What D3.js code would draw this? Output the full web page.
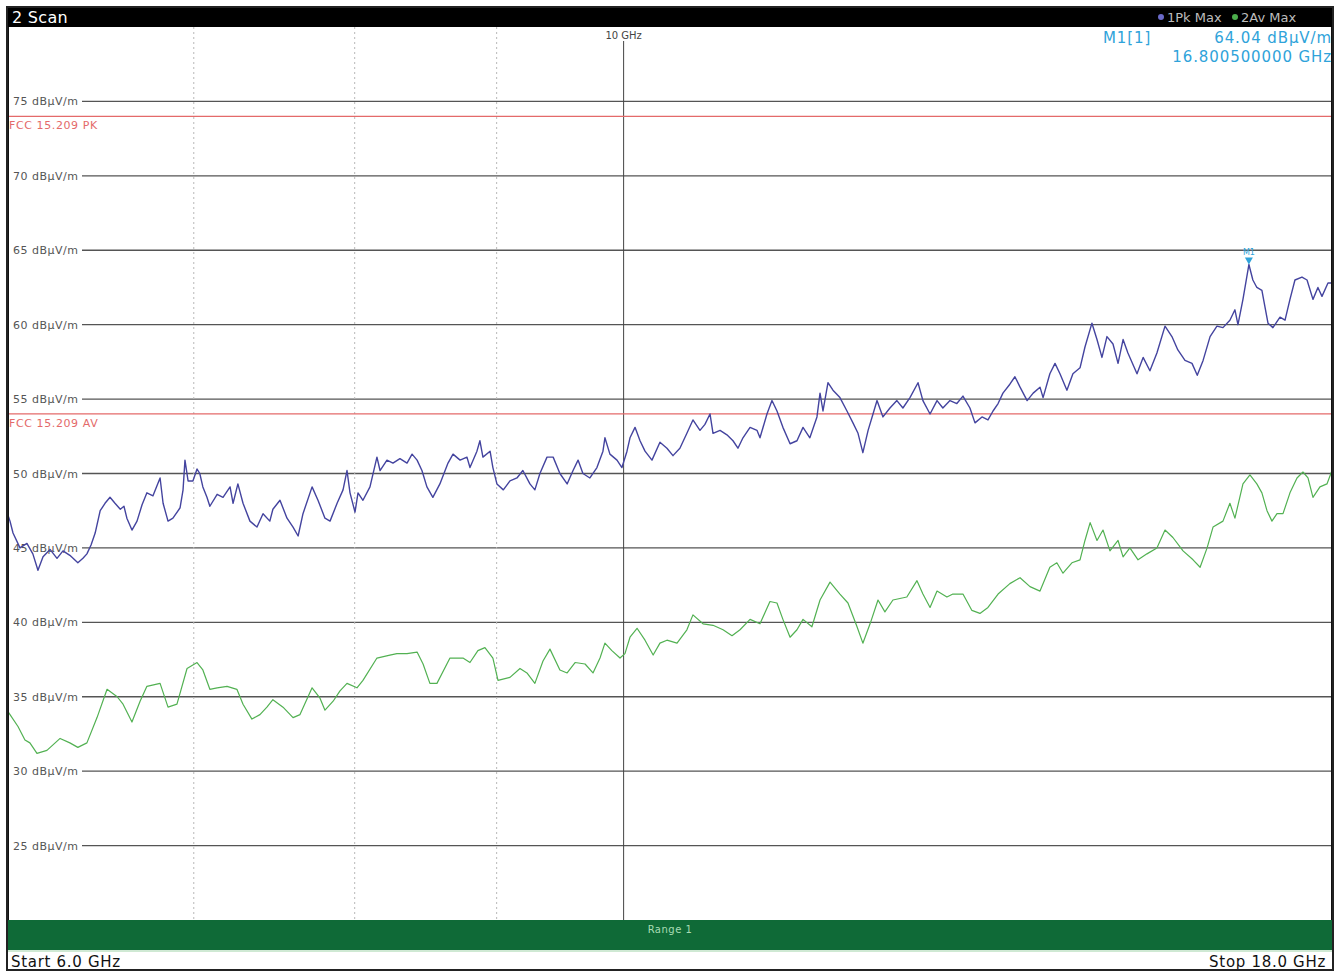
<!DOCTYPE html>
<html>
<head>
<meta charset="utf-8">
<script src="https://cdn.jsdelivr.net/npm/d3@7/dist/d3.min.js"></script>
<style>
  html, body { margin: 0; padding: 0; background: #ffffff; }
  svg { display: block; }
  text { font-family: "DejaVu Sans", Verdana, sans-serif; }
</style>
</head>
<body>
<svg id="chart" width="1336" height="973"></svg>
<script>
// Sweep range and level axis
const freqRange = [6.0, 18.0];          // GHz
const levelRange = [20, 80];            // dBµV/m
const levelTicks = [75, 70, 65, 60, 55, 50, 45, 40, 35, 30, 25];
const freqGridMinor = [7, 8, 9];        // dotted grid lines
const freqGridMajor = [10];             // solid grid line with label

// Limit lines
const limitNames = ["FCC 15.209 PK", "FCC 15.209 AV"];
const limitLevels = [74, 54];

// Marker
const markerName = "M1";
const markerFreq = 16.8005;
const markerLevel = 64.04;

// Trace 1: peak max hold
const pkFreq = [6.000, 6.010, 6.025, 6.060, 6.095, 6.125, 6.151, 6.177, 6.213, 6.249, 6.280, 6.316, 6.358, 6.385, 6.406, 6.428, 6.450, 6.477, 6.503, 6.530, 6.557, 6.586, 6.606, 6.622, 6.650, 6.678, 6.706, 6.733, 6.767, 6.790, 6.807, 6.824, 6.852, 6.880, 6.921, 6.938, 6.949, 6.967, 6.995, 7.019, 7.035, 7.053, 7.077, 7.094, 7.137, 7.172, 7.214, 7.232, 7.261, 7.292, 7.334, 7.377, 7.414, 7.456, 7.475, 7.519, 7.563, 7.601, 7.633, 7.664, 7.722, 7.760, 7.805, 7.838, 7.884, 7.923, 7.949, 7.969, 8.002, 8.022, 8.055, 8.102, 8.149, 8.170, 8.217, 8.258, 8.306, 8.355, 8.390, 8.425, 8.459, 8.494, 8.536, 8.586, 8.644, 8.680, 8.731, 8.781, 8.803, 8.854, 8.876, 8.898, 8.951, 8.972, 9.002, 9.050, 9.100, 9.153, 9.198, 9.252, 9.290, 9.329, 9.384, 9.432, 9.485, 9.542, 9.589, 9.629, 9.668, 9.724, 9.781, 9.830, 9.846, 9.887, 9.945, 9.986, 10.028, 10.053, 10.095, 10.137, 10.179, 10.238, 10.306, 10.366, 10.418, 10.478, 10.539, 10.592, 10.654, 10.698, 10.743, 10.770, 10.833, 10.895, 10.950, 10.995, 11.041, 11.106, 11.170, 11.198, 11.263, 11.310, 11.357, 11.413, 11.481, 11.547, 11.605, 11.671, 11.740, 11.770, 11.799, 11.848, 11.897, 11.966, 12.036, 12.096, 12.147, 12.196, 12.249, 12.299, 12.340, 12.401, 12.473, 12.545, 12.608, 12.682, 12.767, 12.819, 12.895, 12.970, 13.033, 13.110, 13.185, 13.252, 13.329, 13.385, 13.463, 13.530, 13.587, 13.644, 13.699, 13.778, 13.836, 13.895, 13.977, 14.047, 14.127, 14.163, 14.243, 14.304, 14.363, 14.446, 14.518, 14.604, 14.664, 14.749, 14.811, 14.872, 14.934, 15.009, 15.072, 15.135, 15.196, 15.311, 15.389, 15.476, 15.566, 15.671, 15.761, 15.839, 15.933, 16.026, 16.096, 16.174, 16.268, 16.361, 16.443, 16.538, 16.607, 16.649, 16.718, 16.8005, 16.856, 16.912, 16.983, 17.026, 17.069, 17.139, 17.240, 17.312, 17.383, 17.455, 17.557, 17.631, 17.718, 17.791, 17.851, 17.940, 18.000];
const pkLevel = [47.2, 46.8, 46.0, 45.0, 45.3, 44.6, 43.5, 44.4, 44.9, 44.3, 44.8, 44.5, 44.0, 44.3, 44.6, 45.2, 46.0, 47.5, 48.0, 48.4, 48.0, 47.6, 47.8, 47.0, 46.2, 46.8, 47.9, 48.7, 48.5, 49.2, 49.7, 48.0, 46.8, 47.0, 47.7, 48.9, 50.9, 49.5, 49.5, 50.3, 50.0, 49.1, 48.4, 47.8, 48.6, 48.4, 49.1, 48.0, 49.3, 48.0, 46.8, 46.4, 47.3, 46.8, 47.6, 48.2, 47.0, 46.4, 45.8, 47.3, 49.1, 48.2, 47.0, 46.8, 48.0, 48.9, 50.2, 48.7, 47.4, 48.7, 48.2, 49.1, 51.1, 50.2, 50.9, 50.7, 51.0, 50.7, 51.3, 50.9, 50.2, 49.1, 48.4, 49.3, 50.7, 51.3, 50.9, 51.1, 50.4, 51.5, 52.2, 51.1, 51.5, 50.4, 49.3, 48.9, 49.5, 49.7, 50.2, 49.3, 48.9, 50.0, 51.1, 51.1, 50.0, 49.3, 50.2, 50.9, 50.0, 49.7, 50.4, 51.5, 52.4, 51.3, 50.9, 50.4, 51.5, 52.4, 53.1, 52.2, 51.5, 50.9, 52.1, 51.7, 51.2, 51.7, 52.7, 53.6, 52.9, 53.3, 54.0, 52.7, 52.9, 52.6, 52.2, 51.7, 52.4, 53.1, 52.9, 52.4, 54.0, 54.9, 54.2, 53.1, 52.0, 52.2, 53.1, 52.4, 53.8, 55.4, 54.2, 56.1, 55.6, 55.1, 54.2, 53.4, 52.7, 51.4, 52.9, 54.0, 54.9, 53.8, 54.4, 54.9, 54.4, 55.1, 56.1, 54.9, 54.0, 54.9, 54.4, 54.9, 54.7, 55.2, 54.4, 53.4, 53.8, 53.6, 54.2, 54.7, 55.4, 56.0, 56.5, 55.8, 54.9, 55.4, 55.8, 55.1, 56.7, 57.4, 56.7, 55.6, 56.7, 57.1, 58.5, 60.1, 59.0, 57.8, 59.2, 58.7, 57.4, 59.0, 58.1, 56.7, 57.8, 56.9, 58.1, 59.9, 59.2, 58.3, 57.6, 57.4, 56.6, 57.6, 59.2, 59.9, 59.8, 60.3, 61.0, 60.0, 61.7, 64.04, 63.0, 62.5, 62.3, 61.2, 60.1, 59.8, 60.5, 60.3, 61.7, 63.0, 63.2, 63.0, 61.7, 62.5, 61.9, 62.8, 62.8];

// Trace 2: average max hold
const avFreq = [6.000, 6.010, 6.050, 6.085, 6.110, 6.146, 6.197, 6.265, 6.316, 6.358, 6.406, 6.460, 6.514, 6.569, 6.601, 6.650, 6.695, 6.733, 6.807, 6.852, 6.903, 6.961, 7.019, 7.053, 7.094, 7.137, 7.196, 7.255, 7.292, 7.346, 7.395, 7.438, 7.475, 7.538, 7.601, 7.645, 7.722, 7.773, 7.805, 7.858, 7.903, 7.949, 8.015, 8.055, 8.149, 8.237, 8.285, 8.355, 8.425, 8.467, 8.515, 8.565, 8.658, 8.752, 8.803, 8.861, 8.913, 8.972, 9.010, 9.100, 9.176, 9.229, 9.290, 9.353, 9.407, 9.485, 9.542, 9.605, 9.685, 9.749, 9.806, 9.846, 9.903, 9.970, 10.011, 10.053, 10.112, 10.179, 10.248, 10.306, 10.366, 10.453, 10.539, 10.592, 10.681, 10.770, 10.860, 10.941, 11.014, 11.106, 11.198, 11.291, 11.357, 11.413, 11.481, 11.547, 11.605, 11.691, 11.770, 11.868, 11.966, 12.046, 12.137, 12.196, 12.269, 12.350, 12.421, 12.504, 12.649, 12.756, 12.819, 12.895, 12.970, 13.077, 13.142, 13.252, 13.351, 13.440, 13.530, 13.644, 13.778, 13.895, 14.010, 14.127, 14.243, 14.326, 14.399, 14.506, 14.604, 14.664, 14.727, 14.811, 14.885, 14.971, 15.072, 15.135, 15.221, 15.324, 15.438, 15.566, 15.671, 15.774, 15.907, 16.040, 16.134, 16.228, 16.308, 16.443, 16.538, 16.607, 16.718, 16.815, 16.912, 16.983, 17.055, 17.125, 17.197, 17.283, 17.383, 17.485, 17.571, 17.645, 17.718, 17.821, 17.925, 18.000];
const avLevel = [34.0, 33.8, 33.0, 32.1, 31.9, 31.2, 31.4, 32.2, 31.9, 31.6, 31.9, 33.6, 35.5, 35.0, 34.5, 33.3, 34.7, 35.7, 35.9, 34.3, 34.5, 36.9, 37.3, 36.8, 35.5, 35.6, 35.7, 35.5, 34.5, 33.5, 33.8, 34.3, 34.8, 34.3, 33.6, 33.8, 35.6, 34.9, 34.1, 34.7, 35.4, 35.9, 35.6, 36.1, 37.6, 37.8, 37.9, 37.9, 38.0, 37.2, 35.9, 35.9, 37.6, 37.6, 37.3, 38.1, 38.3, 37.6, 36.1, 36.3, 36.9, 36.6, 35.9, 37.4, 38.2, 36.8, 36.6, 37.3, 37.2, 36.6, 37.6, 38.6, 38.1, 37.6, 37.9, 39.0, 39.6, 38.8, 37.8, 38.6, 38.8, 38.6, 39.5, 40.5, 39.9, 39.8, 39.5, 39.1, 39.5, 40.2, 39.9, 41.4, 41.3, 40.2, 39.0, 39.5, 40.2, 39.7, 41.5, 42.7, 41.9, 41.3, 39.7, 38.6, 39.9, 41.5, 40.7, 41.5, 41.7, 42.8, 41.9, 41.0, 42.1, 41.7, 41.9, 41.9, 40.8, 40.6, 41.0, 41.9, 42.6, 43.0, 42.4, 42.1, 43.7, 44.0, 43.3, 44.0, 44.2, 45.5, 46.7, 45.5, 46.2, 44.8, 45.5, 44.4, 45.0, 44.2, 44.6, 45.0, 46.2, 45.7, 44.8, 44.2, 43.7, 45.0, 46.4, 46.8, 48.0, 47.0, 49.3, 49.9, 49.3, 48.7, 47.5, 46.8, 47.3, 47.3, 48.7, 49.7, 50.1, 49.7, 48.4, 49.1, 49.3, 50.2];

const traceNames = ["1Pk Max", "2Av Max"];
const traceColors = ["#44449f", "#52b152"];

// ---------------------------------------------------------------
const svg = d3.select("#chart");
const plot = { left: 8, right: 1332, top: 27, bottom: 920 };

const x = d3.scaleLog().domain(freqRange).range([plot.left, plot.right]);
const y = d3.scaleLinear().domain(levelRange).range([plot.bottom, plot.top]);

// Title bar
svg.append("rect").attr("x", 7).attr("y", 7).attr("width", 1326).attr("height", 20).attr("fill", "#000");
svg.append("text").attr("x", 12).attr("y", 23).attr("fill", "#fff")
  .style("font-size", "16px").style("letter-spacing", "0.3px").text("2 Scan");

// Legend in title bar
const legend = svg.append("g").style("font-size", "13px");
const legendItems = [
  { name: traceNames[0], color: "#6a6ac8", x: 1167 },
  { name: traceNames[1], color: "#4cae4c", x: 1241 }
];
legendItems.forEach(d => {
  legend.append("circle").attr("cx", d.x - 6).attr("cy", 17).attr("r", 3).attr("fill", d.color);
  legend.append("text").attr("x", d.x).attr("y", 22).attr("fill", "#bdbdbd").text(d.name);
});

// Horizontal grid with level labels
const grid = svg.append("g");
levelTicks.forEach(v => {
  grid.append("line")
    .attr("x1", 82).attr("x2", plot.right)
    .attr("y1", y(v)).attr("y2", y(v))
    .attr("stroke", "#555").attr("stroke-width", 1.4);
  grid.append("text")
    .attr("x", 13).attr("y", y(v) + 4)
    .attr("fill", "#555").style("font-size", "11px").style("letter-spacing", "0.5px")
    .text(v + " dBµV/m");
});

// Vertical frequency grid
freqGridMinor.forEach(f => {
  grid.append("line")
    .attr("x1", x(f)).attr("x2", x(f))
    .attr("y1", plot.top).attr("y2", plot.bottom)
    .attr("stroke", "#b8b8b8").attr("stroke-width", 1)
    .attr("stroke-dasharray", "2,3");
});
freqGridMajor.forEach(f => {
  grid.append("line")
    .attr("x1", x(f)).attr("x2", x(f))
    .attr("y1", plot.top + 14).attr("y2", plot.bottom)
    .attr("stroke", "#444").attr("stroke-width", 1);
  grid.append("text")
    .attr("x", x(f)).attr("y", plot.top + 12)
    .attr("text-anchor", "middle")
    .attr("fill", "#444").style("font-size", "10px")
    .text(f + " GHz");
});

// Limit lines
limitLevels.forEach((v, i) => {
  grid.append("line")
    .attr("x1", plot.left).attr("x2", plot.right)
    .attr("y1", y(v)).attr("y2", y(v))
    .attr("stroke", "#e46a6a").attr("stroke-width", 1.2);
  grid.append("text")
    .attr("x", 9).attr("y", y(v) + 13)
    .attr("fill", "#e46a6a").style("font-size", "11px").style("letter-spacing", "0.6px")
    .text(limitNames[i]);
});

// Traces
svg.append("clipPath").attr("id", "plotClip")
  .append("rect").attr("x", plot.left).attr("y", plot.top)
  .attr("width", plot.right - plot.left).attr("height", plot.bottom - plot.top);

const line = d3.line().x(d => x(d[0])).y(d => y(d[1]));
const traces = [
  { data: d3.zip(avFreq, avLevel), color: traceColors[1], width: 1.2 },
  { data: d3.zip(pkFreq, pkLevel), color: traceColors[0], width: 1.4 }
];
traces.forEach(t => {
  svg.append("path")
    .datum(t.data)
    .attr("clip-path", "url(#plotClip)")
    .attr("fill", "none")
    .attr("stroke", t.color)
    .attr("stroke-width", t.width)
    .attr("stroke-linejoin", "round")
    .attr("d", line);
});

// Marker
const mx = x(markerFreq), my = y(markerLevel);
svg.append("path")
  .attr("d", `M${mx - 4},${my - 7} L${mx + 4},${my - 7} L${mx},${my} Z`)
  .attr("fill", "#2fa3da");
svg.append("text").attr("x", mx).attr("y", my - 10)
  .attr("text-anchor", "middle").attr("fill", "#2fa3da")
  .style("font-size", "8px").text(markerName);

// Marker readout
const readout = svg.append("g").attr("fill", "#2fa3da")
  .style("font-size", "15px").style("letter-spacing", "0.9px");
readout.append("text").attr("x", 1103).attr("y", 43).text(markerName + "[1]");
readout.append("text").attr("x", 1332).attr("y", 43).attr("text-anchor", "end")
  .text(markerLevel.toFixed(2) + " dBµV/m");
readout.append("text").attr("x", 1332).attr("y", 62).attr("text-anchor", "end")
  .text(markerFreq.toFixed(9) + " GHz");

// Plot frame
svg.append("line").attr("x1", plot.left).attr("x2", plot.left)
  .attr("y1", plot.top).attr("y2", plot.bottom).attr("stroke", "#111").attr("stroke-width", 2);
svg.append("line").attr("x1", plot.right).attr("x2", plot.right)
  .attr("y1", plot.top).attr("y2", plot.bottom).attr("stroke", "#111").attr("stroke-width", 2);

// Range bar
svg.append("rect").attr("x", plot.left).attr("y", plot.bottom)
  .attr("width", plot.right - plot.left).attr("height", 30).attr("fill", "#0f6a37");
svg.append("line").attr("x1", plot.left).attr("x2", plot.right)
  .attr("y1", plot.bottom + 31).attr("y2", plot.bottom + 31)
  .attr("stroke", "#9fd3a8").attr("stroke-width", 1);
svg.append("text").attr("x", (plot.left + plot.right) / 2).attr("y", plot.bottom + 13)
  .attr("text-anchor", "middle").attr("fill", "#a8dcb4")
  .style("font-size", "10px").style("letter-spacing", "0.5px").text("Range 1");

// Start / stop annotation
const footer = svg.append("g").attr("fill", "#111")
  .style("font-size", "15px").style("letter-spacing", "0.7px");
footer.append("text").attr("x", 11).attr("y", 967)
  .text("Start " + freqRange[0].toFixed(1) + " GHz");
footer.append("text").attr("x", 1326).attr("y", 967).attr("text-anchor", "end")
  .text("Stop " + freqRange[1].toFixed(1) + " GHz");

// Outer frame
svg.append("rect").attr("x", 7).attr("y", 7).attr("width", 1326).attr("height", 963)
  .attr("fill", "none").attr("stroke", "#222").attr("stroke-width", 2);
</script>
</body>
</html>
